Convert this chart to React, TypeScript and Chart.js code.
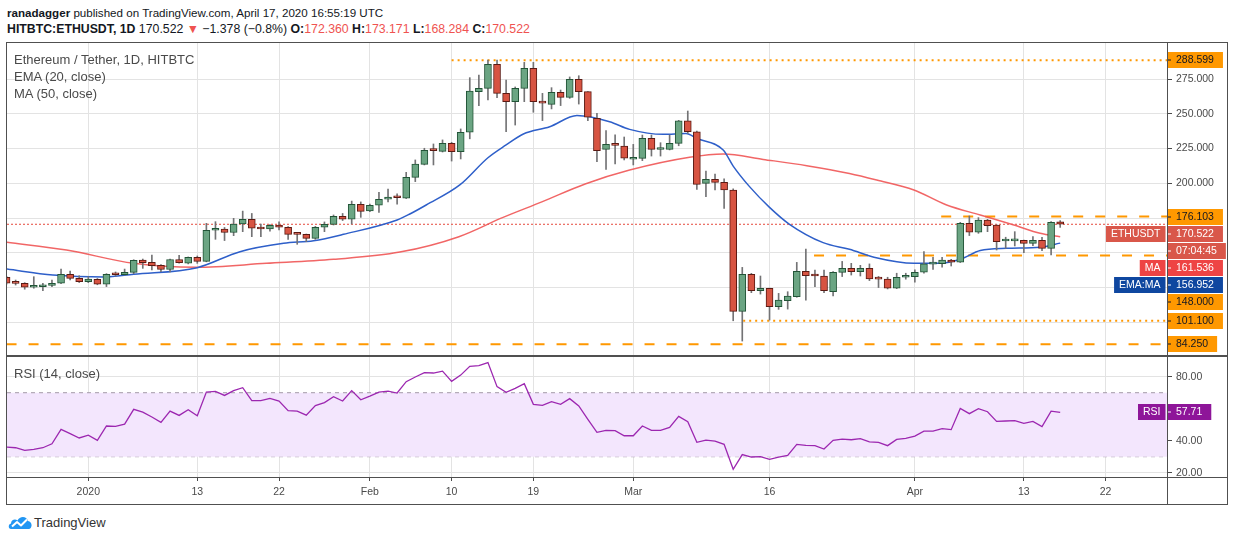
import React, { useEffect, useRef } from "react";
import { Chart, registerables } from "chart.js";

Chart.register(...registerables);

const FONT = '"Liberation Sans", Arial, sans-serif';

// Day offsets are counted from 2020-01-01 (= 0); the first candle is 2019-12-23.
const FIRST_DAY = -9;

const opens = [
  132.4, 128.3, 128.1, 125.2, 125.6, 126.6, 128.1, 134.5, 131.6,
  129.2, 130.9, 127.4, 134.5, 134.3, 135.9, 144.8, 143.1, 140.9, 138.0,
  145.2, 142.5, 146.7, 143.8, 166.2, 167.0, 164.6, 170.7, 174.1, 167.5,
  167.1, 170.0, 168.4, 163.5, 163.3, 160.4, 168.4, 170.5, 176.2, 174.1,
  184.9, 180.1, 184.2, 188.5, 190.0, 189.3, 204.3, 213.6, 224.0, 223.0,
  228.8, 222.8, 236.7, 265.9, 268.3, 285.6, 264.7, 258.7, 268.3, 282.7,
  258.5, 256.8, 265.4, 261.8, 274.8, 265.9, 246.7, 224.4, 228.0, 226.8,
  217.3, 217.9, 232.3, 224.3, 224.4, 228.7, 245.0, 237.1, 199.9, 202.8,
  200.7, 195.2, 107.9, 134.5, 122.7, 124.4, 111.2, 115.5, 118.4, 136.6,
  134.0, 133.3, 122.0, 135.9, 138.9, 136.5, 138.9, 131.4, 131.0, 124.5,
  132.4, 132.9, 136.0, 141.8, 142.2, 144.8, 143.2, 171.2, 164.8, 173.6,
  170.0, 158.5, 158.6, 159.0, 156.8, 159.0, 153.2, 172.36,
];

const highs = [
  133.0, 130.4, 128.5, 132.8, 128.0, 130.4, 138.3, 136.9, 133.5,
  132.8, 131.5, 135.0, 136.2, 138.3, 145.0, 145.5, 148.4, 141.5, 145.5,
  148.1, 147.0, 147.7, 171.2, 172.4, 168.2, 174.8, 180.0, 178.3, 170.7,
  170.3, 172.2, 168.9, 164.0, 163.5, 169.0, 172.2, 177.2, 178.3, 187.2,
  186.6, 185.0, 193.5, 195.9, 192.4, 207.9, 216.8, 225.2, 228.3, 231.2,
  229.5, 239.1, 276.0, 277.9, 288.6, 288.6, 274.3, 269.3, 287.0, 287.0,
  264.7, 268.8, 267.1, 276.5, 277.4, 266.0, 250.3, 237.9, 234.8, 233.3,
  228.0, 234.7, 234.7, 229.2, 234.7, 245.3, 252.0, 237.5, 208.8, 206.7,
  203.3, 196.0, 139.5, 135.2, 133.3, 124.6, 120.8, 122.0, 143.1, 152.7,
  137.6, 137.6, 136.5, 143.8, 142.4, 141.0, 142.0, 133.0, 132.4, 135.3,
  135.3, 137.7, 150.8, 146.8, 146.8, 145.3, 171.9, 176.5, 175.3, 174.1,
  170.2, 161.2, 165.2, 159.2, 161.6, 161.2, 172.4, 173.171,
];

const lows = [
  127.5, 126.8, 123.8, 124.5, 122.7, 125.7, 127.8, 130.4, 128.6,
  128.5, 127.0, 125.7, 133.3, 134.0, 135.0, 138.8, 137.7, 136.5, 136.2,
  142.5, 142.0, 142.4, 143.5, 159.7, 158.8, 162.3, 165.2, 161.6, 161.6,
  165.5, 166.4, 159.7, 156.1, 158.0, 159.7, 165.2, 170.0, 173.2, 170.7,
  175.5, 179.6, 179.1, 186.6, 184.9, 189.0, 201.2, 213.2, 213.2, 222.5,
  216.0, 217.5, 232.0, 255.9, 259.9, 261.6, 237.1, 241.9, 258.7, 251.1,
  245.1, 253.5, 255.9, 261.1, 257.0, 245.1, 215.6, 210.0, 213.9, 216.8,
  213.2, 216.3, 219.6, 219.6, 224.0, 227.0, 235.9, 195.6, 190.4, 195.2,
  182.0, 101.1, 86.5, 121.3, 120.3, 101.6, 109.3, 109.5, 118.0, 116.0,
  125.6, 121.3, 118.9, 132.9, 134.0, 133.3, 130.0, 125.0, 124.0, 124.2,
  131.0, 128.8, 135.3, 138.1, 139.6, 140.5, 143.0, 162.4, 164.0, 165.2,
  152.0, 153.2, 154.9, 150.1, 155.2, 151.6, 148.4, 168.284,
];

const closes = [
  128.1, 128.0, 125.2, 126.1, 126.8, 128.1, 134.5, 131.6, 129.2,
  131.1, 127.4, 134.5, 134.2, 135.9, 144.6, 142.9, 140.7, 138.0, 145.2,
  142.9, 146.7, 143.8, 166.2, 167.2, 164.6, 170.7, 174.1, 167.7, 167.1,
  169.8, 168.4, 163.3, 163.2, 160.4, 168.4, 170.5, 176.3, 174.1, 184.9,
  179.8, 184.2, 188.5, 190.0, 189.6, 204.3, 213.8, 223.7, 223.5, 228.8,
  222.8, 236.7, 266.4, 268.3, 285.6, 264.7, 258.7, 268.3, 282.7, 258.7,
  257.7, 265.4, 261.8, 274.8, 265.9, 247.5, 223.5, 228.0, 227.3, 218.0,
  217.8, 232.3, 224.4, 224.6, 228.7, 245.0, 237.1, 199.2, 202.8, 200.7,
  195.2, 107.9, 134.5, 122.7, 124.4, 111.2, 116.0, 118.9, 136.6, 133.5,
  133.3, 122.7, 135.9, 138.9, 136.5, 138.9, 131.2, 131.0, 124.5, 132.4,
  132.9, 136.0, 142.0, 142.2, 144.8, 143.2, 171.2, 164.8, 173.6, 169.5,
  158.0, 158.9, 158.9, 156.8, 159.0, 153.2, 171.9, 170.522,
];

const rsiValues = [
  36.0, 35.6, 34.0, 34.6, 35.6, 38.1, 47.1, 44.4, 41.7,
  43.5, 40.2, 49.2, 49.0, 50.4, 59.6, 57.9, 54.8, 51.5, 58.5,
  55.8, 59.4, 55.6, 70.4, 70.8, 68.3, 71.3, 73.1, 65.0, 65.0,
  66.5, 64.8, 58.8, 58.5, 56.0, 61.9, 63.8, 67.5, 64.8, 71.3,
  65.6, 67.9, 70.4, 71.0, 69.8, 76.9, 79.8, 82.5, 82.3, 83.5,
  77.1, 81.0, 86.5, 86.9, 88.8, 73.8, 70.2, 72.7, 75.6, 62.7,
  62.1, 64.4, 62.7, 66.3, 61.7, 53.3, 45.2, 46.5, 46.3, 43.1,
  43.1, 49.2, 46.5, 46.5, 48.3, 55.2, 51.9, 39.0, 40.4, 39.8,
  37.7, 22.1, 31.3, 29.8, 30.0, 28.3, 29.8, 30.8, 37.7, 37.1,
  36.9, 34.8, 40.2, 41.0, 40.6, 41.3, 39.2, 39.0, 36.9, 40.8,
  41.5, 42.9, 46.0, 46.0, 47.5, 46.9, 60.2, 56.9, 60.0, 58.1,
  52.1, 52.3, 52.5, 50.8, 52.1, 48.8, 58.5, 57.71,
];

// EMA(20) and MA(50) at these day offsets
const emaDays = [-9, -3.9, 1.7, 5, 12, 16.7, 21.5, 24.8, 28.1, 34, 35.4, 37.2, 40.9, 44, 46, 47.9, 50.8, 53.8, 57.4, 59.6, 63.3, 65.8, 67, 69.9, 71, 72.8, 75, 77.2, 80.9, 83.8, 86.5, 90.9, 93.8, 96, 98.2, 101.1, 104.8, 107];
const emaValues = [138.3, 134.0, 132.5, 134.6, 139.3, 150.8, 156.8, 158.7, 163.3, 173.6, 177.9, 184.4, 198.8, 218.4, 227.6, 235.5, 240.7, 248.7, 244.3, 238.8, 235.2, 235.9, 232.3, 223.9, 212.4, 197.6, 182.7, 170.5, 157.3, 152.5, 146.8, 142.4, 142.4, 145.3, 151.6, 153.2, 154.0, 156.952];
const maDays = [-9, -2.4, 5, 11.9, 19.6, 27, 34.3, 40.8, 45.6, 50, 54.7, 59.6, 66.2, 69.9, 74.3, 79.1, 83.8, 86.8, 90.9, 94.5, 98.2, 101.9, 104.8, 107];
const maValues = [157.6, 152.0, 142.4, 139.6, 142.4, 145.3, 150.5, 161.6, 175.3, 186.8, 199.5, 209.5, 218.7, 221.1, 217.2, 212.7, 207.1, 202.4, 195.2, 184.4, 177.2, 170.0, 164.0, 161.536];

// horizontal levels drawn on the chart
const levelValues = [288.599, 176.103, 148.0, 101.1, 84.25];
const levelStartDays = [40, 93.9, 79.9, 72.1, -9];
const levelDotted = [true, false, false, true, false];

const tickDays = [0, 12, 21, 31, 40, 49, 60, 75, 91, 103, 112];
const tickLabels = ["2020", "13", "22", "Feb", "10", "19", "Mar", "16", "Apr", "13", "22"];
const priceGridValues = [100, 125, 150, 175, 200, 225, 250, 275];
const priceLabelValues = [200, 225, 250, 275];
const rsiGridValues = [20, 40, 60, 80];

const lastMA = 161.536;
const lastEMA = 156.952;
const countdown = "07:04:45";
const change = "\u22121.378 (\u22120.8%)";

const X_MIN = -8.95;
const X_MAX = 118.76;
const PRICE_MIN = 75.75;
const PRICE_MAX = 301.65;
const RSI_MIN = 17.31;
const RSI_MAX = 92.94;

const UP_FILL = "#6ba583";
const UP_EDGE = "#225437";
const DOWN_FILL = "#d75442";
const DOWN_EDGE = "#5b1a13";
const WICK = "#737375";
const GRID = "#e3e3e3";
const AXIS_TEXT = "#4a4a4a";
const FRAME = "#505050";
const ORANGE = "#ff9800";
const PRICE_RED = "#d9574a";
const HEADER_RED = "#ef5350";
const MA_RED = "#ee4444";
const EMA_BLUE = "#0f47a0";
const RSI_PURPLE = "#9c27b0";

const last = closes.length - 1;
const dayOf = (i: number) => FIRST_DAY + i;

function drawTag(ctx: CanvasRenderingContext2D, x: number, y: number, text: string, bg: string, fg: string) {
  const w = ctx.measureText(text).width + 18;
  ctx.fillStyle = bg;
  ctx.fillRect(x, Math.round(y) - 8, w, 16);
  ctx.fillStyle = fg;
  ctx.fillRect(x, Math.round(y) - 0.5, 4, 1);
  ctx.textAlign = "left";
  ctx.fillText(text, x + 9, Math.round(y) + 0.5);
}

function drawSideTag(ctx: CanvasRenderingContext2D, right: number, y: number, text: string, bg: string) {
  const w = ctx.measureText(text).width + 10;
  ctx.fillStyle = bg;
  ctx.fillRect(right - 1.5 - w, Math.round(y) - 8, w, 16);
  ctx.fillStyle = "#ffffff";
  ctx.textAlign = "center";
  ctx.fillText(text, right - 1.5 - w / 2, Math.round(y) + 0.5);
}

const priceTagsPlugin = {
  id: "priceTags",
  afterDraw(chart: any) {
    const { ctx, chartArea, scales } = chart;
    const ys = scales.y;
    const H = 17;
    const tags = [
      { value: levelValues[0], text: levelValues[0].toFixed(3), bg: ORANGE, fg: "#131722", follow: false, side: "" },
      { value: levelValues[1], text: levelValues[1].toFixed(3), bg: ORANGE, fg: "#131722", follow: false, side: "" },
      { value: closes[last], text: closes[last].toFixed(3), bg: PRICE_RED, fg: "#ffffff", follow: false, side: "ETHUSDT" },
      { value: closes[last], text: countdown, bg: PRICE_RED, fg: "#ffffff", follow: true, side: "" },
      { value: lastMA, text: lastMA.toFixed(3), bg: MA_RED, fg: "#ffffff", follow: false, side: "MA" },
      { value: lastEMA, text: lastEMA.toFixed(3), bg: EMA_BLUE, fg: "#ffffff", follow: false, side: "EMA:MA" },
      { value: levelValues[2], text: levelValues[2].toFixed(3), bg: ORANGE, fg: "#131722", follow: false, side: "" },
      { value: levelValues[3], text: levelValues[3].toFixed(3), bg: ORANGE, fg: "#131722", follow: false, side: "" },
      { value: levelValues[4], text: levelValues[4].toFixed(3), bg: ORANGE, fg: "#131722", follow: false, side: "" },
    ];
    let prev = -Infinity;
    const pos = tags.map((t) => {
      let y = t.follow ? prev + H : ys.getPixelForValue(t.value);
      if (y < prev + H) y = prev + H;
      prev = y;
      return y;
    });
    for (let i = pos.length - 1; i >= 0; i--) {
      const lim = i === pos.length - 1 ? chartArea.bottom - 12 : pos[i + 1] - H;
      if (pos[i] > lim) pos[i] = lim;
    }
    ctx.save();
    ctx.font = `10.5px ${FONT}`;
    ctx.textBaseline = "middle";
    tags.forEach((t, i) => {
      drawTag(ctx, chartArea.right, pos[i], t.text, t.bg, t.fg);
      if (t.side) drawSideTag(ctx, chartArea.right, pos[i], t.side, t.bg);
    });
    ctx.restore();
  },
};

const rsiTagPlugin = {
  id: "rsiTag",
  afterDraw(chart: any) {
    const { ctx, chartArea, scales } = chart;
    const v = rsiValues[last];
    const y = scales.y.getPixelForValue(v);
    ctx.save();
    ctx.font = `10.5px ${FONT}`;
    ctx.textBaseline = "middle";
    drawTag(ctx, chartArea.right, y, v.toFixed(2), "#8e1599", "#ffffff");
    drawSideTag(ctx, chartArea.right, y, "RSI", "#8e1599");
    ctx.restore();
  },
};

function levelDataset(i: number) {
  return {
    type: "line" as const,
    data: [
      { x: levelStartDays[i], y: levelValues[i] },
      { x: X_MAX, y: levelValues[i] },
    ],
    borderColor: ORANGE,
    borderWidth: 2,
    borderDash: levelDotted[i] ? [2, 4] : [10, 12],
    pointRadius: 0,
    order: 5,
  };
}

const noPadX = (s: any, h: number) => {
  s.height = h;
  s.paddingLeft = 0;
  s.paddingRight = 0;
};
const noPadY = (s: any) => {
  s.width = 60;
  s.paddingTop = 0;
  s.paddingBottom = 0;
};

function mainConfig(): any {
  const up = (i: number) => closes[i] >= opens[i];
  return {
    type: "bar",
    data: {
      datasets: [
        {
          type: "bar",
          data: opens.map((o, i) => ({ x: dayOf(i), y: [o, closes[i]] })),
          backgroundColor: opens.map((_, i) => (up(i) ? UP_FILL : DOWN_FILL)),
          borderColor: opens.map((_, i) => (up(i) ? UP_EDGE : DOWN_EDGE)),
          borderWidth: 1,
          borderSkipped: false,
          barThickness: 7,
          minBarLength: 2,
          grouped: false,
          order: 1,
        },
        {
          type: "bar",
          data: lows.map((l, i) => ({ x: dayOf(i), y: [l, highs[i]] })),
          backgroundColor: WICK,
          borderWidth: 0,
          barThickness: 1,
          grouped: false,
          order: 2,
        },
        {
          type: "line",
          data: emaDays.map((d, i) => ({ x: d, y: emaValues[i] })),
          borderColor: "#2e5fc9",
          borderWidth: 1.5,
          pointRadius: 0,
          cubicInterpolationMode: "monotone",
          order: 3,
        },
        {
          type: "line",
          data: maDays.map((d, i) => ({ x: d, y: maValues[i] })),
          borderColor: "rgba(240, 85, 85, 0.9)",
          borderWidth: 1.5,
          pointRadius: 0,
          cubicInterpolationMode: "monotone",
          order: 3,
        },
        ...levelValues.map((_, i) => levelDataset(i)),
        {
          type: "line",
          data: [
            { x: X_MIN, y: closes[last] },
            { x: X_MAX, y: closes[last] },
          ],
          borderColor: "#e5493d",
          borderWidth: 1,
          borderDash: [2, 2],
          pointRadius: 0,
          order: 4,
        },
      ],
    },
    options: {
      responsive: false,
      animation: false,
      events: [],
      layout: { padding: 0, autoPadding: false },
      plugins: { legend: { display: false }, tooltip: { enabled: false } },
      scales: {
        x: {
          type: "linear",
          min: X_MIN,
          max: X_MAX,
          offset: false,
          grid: { color: GRID, drawTicks: false, offset: false },
          border: { display: false },
          ticks: { display: false },
          afterBuildTicks: (s: any) => {
            s.ticks = tickDays.map((v) => ({ value: v }));
          },
          afterFit: (s: any) => noPadX(s, 0),
        },
        y: {
          type: "linear",
          position: "right",
          min: PRICE_MIN,
          max: PRICE_MAX,
          grid: { color: GRID, tickLength: 5, tickColor: AXIS_TEXT },
          border: { display: false },
          ticks: {
            color: AXIS_TEXT,
            font: { family: FONT, size: 10.5 },
            padding: 4,
            autoSkip: false,
            callback: (v: number) => (priceLabelValues.includes(v) ? v.toFixed(3) : ""),
          },
          afterBuildTicks: (s: any) => {
            s.ticks = priceGridValues.map((v) => ({ value: v }));
          },
          afterFit: noPadY,
        },
      },
    },
    plugins: [priceTagsPlugin],
  };
}

function rsiConfig(): any {
  return {
    type: "line",
    data: {
      datasets: [
        {
          data: [
            { x: X_MIN, y: 70 },
            { x: X_MAX, y: 70 },
          ],
          borderColor: "#a49aa8",
          borderWidth: 1,
          borderDash: [4, 4],
          pointRadius: 0,
          fill: "+1",
          backgroundColor: "#f3e6fd",
          order: 3,
        },
        {
          data: [
            { x: X_MIN, y: 30 },
            { x: X_MAX, y: 30 },
          ],
          borderColor: "#a49aa8",
          borderWidth: 1,
          borderDash: [4, 4],
          pointRadius: 0,
          fill: false,
          order: 3,
        },
        {
          data: rsiValues.map((v, i) => ({ x: dayOf(i), y: v })),
          borderColor: RSI_PURPLE,
          borderWidth: 1.3,
          pointRadius: 0,
          fill: false,
          order: 1,
        },
      ],
    },
    options: {
      responsive: false,
      animation: false,
      events: [],
      layout: { padding: 0, autoPadding: false },
      plugins: { legend: { display: false }, tooltip: { enabled: false } },
      scales: {
        x: {
          type: "linear",
          min: X_MIN,
          max: X_MAX,
          offset: false,
          grid: { color: GRID, tickLength: 4, tickColor: AXIS_TEXT },
          border: { display: false },
          ticks: {
            color: AXIS_TEXT,
            font: { family: FONT, size: 10.5 },
            padding: 5,
            maxRotation: 0,
            autoSkip: false,
            callback: (v: number) => {
              const k = tickDays.indexOf(v);
              return k >= 0 ? tickLabels[k] : "";
            },
          },
          afterBuildTicks: (s: any) => {
            s.ticks = tickDays.map((v) => ({ value: v }));
          },
          afterFit: (s: any) => noPadX(s, 27),
        },
        y: {
          type: "linear",
          position: "right",
          min: RSI_MIN,
          max: RSI_MAX,
          grid: { color: GRID, tickLength: 5, tickColor: AXIS_TEXT },
          border: { display: false },
          ticks: {
            color: AXIS_TEXT,
            font: { family: FONT, size: 10.5 },
            padding: 4,
            autoSkip: false,
            callback: (v: number) => v.toFixed(2),
          },
          afterBuildTicks: (s: any) => {
            s.ticks = rsiGridValues.map((v) => ({ value: v }));
          },
          afterFit: noPadY,
        },
      },
    },
    plugins: [rsiTagPlugin],
  };
}

const line = (style: React.CSSProperties): React.CSSProperties => ({
  position: "absolute",
  background: FRAME,
  ...style,
});

export default function App() {
  const mainRef = useRef<HTMLCanvasElement>(null);
  const rsiRef = useRef<HTMLCanvasElement>(null);

  useEffect(() => {
    const main = new Chart(mainRef.current as HTMLCanvasElement, mainConfig());
    const rsi = new Chart(rsiRef.current as HTMLCanvasElement, rsiConfig());
    return () => {
      main.destroy();
      rsi.destroy();
    };
  }, []);

  const red = { color: HEADER_RED };
  const legendText: React.CSSProperties = {
    position: "absolute",
    left: 14,
    height: 16,
    lineHeight: "16px",
    fontSize: 13,
    color: "#4a4a4a",
    whiteSpace: "pre",
  };

  return (
    <div
      style={{
        position: "absolute",
        left: 0,
        top: 0,
        width: 1234,
        height: 541,
        background: "#ffffff",
        overflow: "hidden",
        fontFamily: FONT,
        color: "#131722",
      }}
    >
      <div style={{ position: "absolute", left: 7, top: 5, height: 16, lineHeight: "16px", fontSize: 11.6, whiteSpace: "pre" }}>
        <b>ranadagger</b> published on TradingView.com, April 17, 2020 16:55:19 UTC
      </div>
      <div style={{ position: "absolute", left: 7, top: 21, height: 16, lineHeight: "16px", fontSize: 12.3, whiteSpace: "pre" }}>
        <b>HITBTC:ETHUSDT, 1D</b> {closes[last].toFixed(3)} <span style={red}>▼</span> {change} <b>O:</b>
        <span style={red}>{opens[last].toFixed(3)}</span> <b>H:</b>
        <span style={red}>{highs[last].toFixed(3)}</span> <b>L:</b>
        <span style={red}>{lows[last].toFixed(3)}</span> <b>C:</b>
        <span style={red}>{closes[last].toFixed(3)}</span>
      </div>

      <canvas ref={mainRef} width={1220} height={314} style={{ position: "absolute", left: 7, top: 42, width: 1220, height: 314 }} />
      <canvas ref={rsiRef} width={1220} height={148} style={{ position: "absolute", left: 7, top: 356, width: 1220, height: 148 }} />

      <div style={{ ...legendText, top: 52 }}>Ethereum / Tether, 1D, HITBTC</div>
      <div style={{ ...legendText, top: 69 }}>EMA (20, close)</div>
      <div style={{ ...legendText, top: 86 }}>MA (50, close)</div>
      <div style={{ ...legendText, top: 366 }}>RSI (14, close)</div>

      <div style={line({ left: 6, top: 42, width: 1222, height: 1 })} />
      <div style={line({ left: 6, top: 504, width: 1222, height: 1 })} />
      <div style={line({ left: 6, top: 42, width: 1, height: 463 })} />
      <div style={line({ left: 1227, top: 42, width: 1, height: 463 })} />
      <div style={line({ left: 1167, top: 42, width: 1, height: 463 })} />
      <div style={line({ left: 6, top: 355, width: 1222, height: 2 })} />
      <div style={line({ left: 6, top: 477, width: 1222, height: 1 })} />

      <div style={{ position: "absolute", left: 8, top: 513, height: 18, display: "flex", alignItems: "center" }}>
        <svg width="24" height="16" viewBox="0 0 24 16">
          <path d="M3 15 C0 15 0 10 3 9.5 C3 6 7 4.5 9.5 6.5 C11.5 2 18.5 1.5 20 7 C23 7.5 24.5 11 23 13.5 C22.3 14.6 21.5 15 20 15 Z" fill="#2196f3" />
          <polyline points="4,12.5 9,8 13,11.5 19,5.5" stroke="#ffffff" strokeWidth="2" fill="none" strokeLinejoin="round" />
        </svg>
        <span style={{ marginLeft: 2, fontSize: 13, color: "#333333" }}>TradingView</span>
      </div>
    </div>
  );
}
